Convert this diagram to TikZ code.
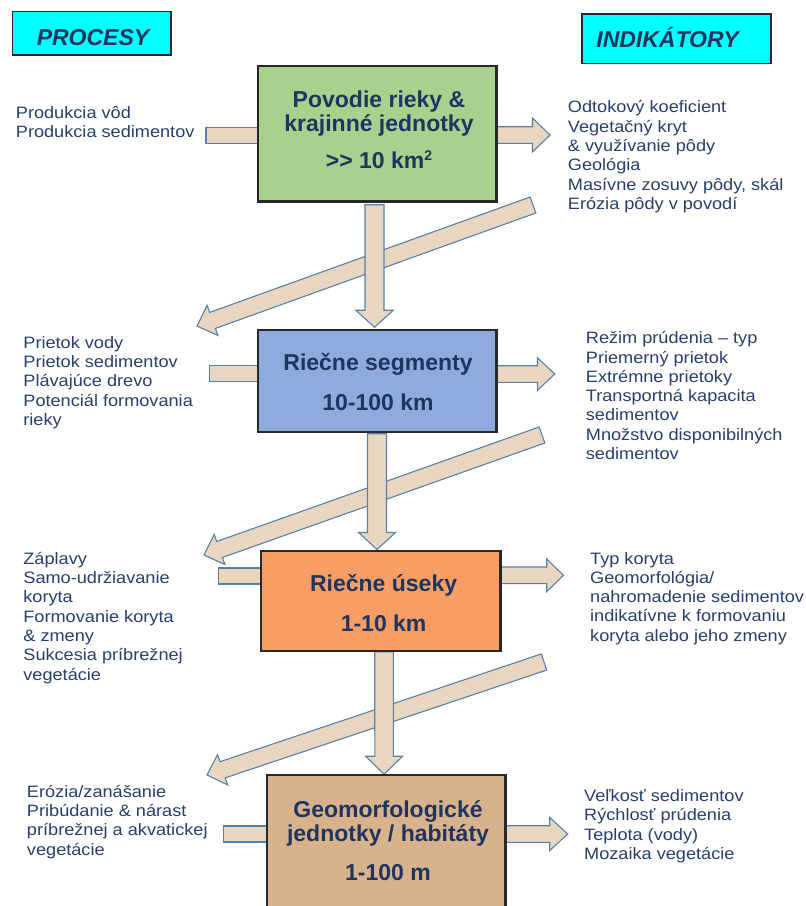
\documentclass[tikz,border=0pt]{standalone}
\usepackage{fontspec}
\setmainfont{Liberation Sans}
\newfontfamily\bodyf[FakeStretch=1.1]{Liberation Sans}
\usetikzlibrary{calc}
\definecolor{navy}{RGB}{31,52,94}
\definecolor{bodytxt}{RGB}{40,62,108}
\definecolor{arrfill}{RGB}{233,214,193}
\definecolor{arrline}{RGB}{88,128,172}
\definecolor{gfill}{RGB}{169,209,142}
\definecolor{bfill}{RGB}{143,170,220}
\definecolor{ofill}{RGB}{248,158,100}
\definecolor{tfill}{RGB}{216,178,140}
\definecolor{hfill}{RGB}{0,255,255}
\definecolor{boxline}{RGB}{40,40,40}
\newcommand\blockarr[5]{%
  \coordinate (bh) at ($(#2)!#5!(#1)$);
  \draw[barrow] ($(#1)!#3!90:(#2)$) -- ($(bh)!#3!90:(#2)$) -- ($(bh)!#4!90:(#2)$) -- (#2) -- ($(bh)!#4!-90:(#2)$) -- ($(bh)!#3!-90:(#2)$) -- ($(#1)!#3!-90:(#2)$) -- cycle;}
\newcommand\stripar[3]{%
  \draw[barrow] ($(#1)!#3!90:(#2)$) -- ($(#2)!#3!-90:(#1)$) -- ($(#2)!#3!90:(#1)$) -- ($(#1)!#3!-90:(#2)$) -- cycle;}
\newcommand\smallsup[1]{\raisebox{7.5pt}{\fontsize{14}{14}\selectfont #1}}
\begin{document}
\begin{tikzpicture}[x=1pt,y=-1pt,
  barrow/.style={fill=arrfill,draw=arrline,line width=1.1pt,line join=miter},
  lvlbox/.style={draw=boxline,line width=1.5pt,inner sep=0pt,minimum width=238pt},
  hdrbox/.style={draw=boxline,line width=1.2pt,fill=hfill,inner sep=0pt},
  hdrtext/.style={font=\bfseries\itshape\fontsize{23}{24}\selectfont,text=navy,anchor=base,inner sep=0pt},
  title/.style={font=\bfseries\fontsize{23}{24.5}\selectfont,text=navy,align=center,anchor=base,inner sep=0pt},
  body/.style={font=\bodyf\fontsize{16.5}{19.3}\selectfont,text=bodytxt,align=left,anchor=base west,inner sep=0pt}]
\path[use as bounding box] (0,0) rectangle (806,906);
\clip (0,0) rectangle (806,906);
% centres of level boxes
\coordinate (gC) at (377,133.5);
\coordinate (bC) at (377,380.75);
\coordinate (oC) at (380.85,601.1);
\coordinate (tC) at (386.15,855);
% diagonal arrows
\coordinate (d1s) at (533,205); \coordinate (d1e) at (197,326);
\coordinate (d2s) at (542,435); \coordinate (d2e) at (204,555);
\coordinate (d3s) at (544,662); \coordinate (d3e) at (207,775);
\blockarr{d1s}{d1e}{8.5pt}{16pt}{16.5pt}
\blockarr{d2s}{d2e}{8.5pt}{16pt}{16.5pt}
\blockarr{d3s}{d3e}{8.5pt}{16pt}{16.5pt}
% boxes
\node[lvlbox,fill=gfill,minimum height=135pt] (g) at (gC) {};
\node[lvlbox,fill=bfill,minimum height=101.5pt] (b) at (bC) {};
\node[lvlbox,fill=ofill,minimum width=238.3pt,minimum height=98.8pt] (o) at (oC) {};
\node[lvlbox,fill=tfill,minimum width=237.7pt,minimum height=160pt] (t) at (tC) {};
% vertical arrows
\coordinate (v1s) at ($(g.south)+(-2.5,3)$); \coordinate (v1e) at ($(b.north)+(-2.5,-2)$);
\coordinate (v2s) at ($(b.south)+(0,1.5)$); \coordinate (v2e) at ($(o.north)+(-3.85,-1.5)$);
\coordinate (v3s) at ($(o.south)+(3.15,0.5)$); \coordinate (v3e) at ($(t.north)+(-2,0)$);
\blockarr{v1s}{v1e}{9.5pt}{18.7pt}{17pt}
\blockarr{v2s}{v2e}{9.5pt}{18.5pt}{17pt}
\blockarr{v3s}{v3e}{9.3pt}{18.5pt}{18pt}
% right arrows
\coordinate (r1s) at ($(g.east)+(0,1.5)$); \coordinate (r1e) at ($(g.east)+(53.3,1.5)$);
\coordinate (r2s) at ($(b.east)+(0,-6.75)$); \coordinate (r2e) at ($(b.east)+(58,-6.75)$);
\coordinate (r3s) at ($(o.east)+(0,-25.8)$); \coordinate (r3e) at ($(o.east)+(62.7,-25.8)$);
\coordinate (r4s) at ($(t.east)+(0,-21)$); \coordinate (r4e) at ($(t.east)+(62,-21)$);
\blockarr{r1s}{r1e}{8.3pt}{17pt}{17.6pt}
\blockarr{r2s}{r2e}{8.3pt}{16.3pt}{17.3pt}
\blockarr{r3s}{r3e}{8.3pt}{16.3pt}{16.7pt}
\blockarr{r4s}{r4e}{8.3pt}{16.5pt}{18pt}
% left strips
\coordinate (l1s) at ($(g.west)+(-51.3,2)$); \coordinate (l1e) at ($(g.west)+(0,2)$);
\coordinate (l2s) at ($(b.west)+(-48,-7.25)$); \coordinate (l2e) at ($(b.west)+(0,-7.25)$);
\coordinate (l3s) at ($(o.west)+(-42.2,-25.1)$); \coordinate (l3e) at ($(o.west)+(0,-25.1)$);
\coordinate (l4s) at ($(t.west)+(-43.3,-21)$); \coordinate (l4e) at ($(t.west)+(0,-21)$);
\stripar{l1s}{l1e}{7.8pt}
\stripar{l2s}{l2e}{8pt}
\stripar{l3s}{l3e}{8pt}
\stripar{l4s}{l4e}{8pt}
% box outlines over arrow ends
\draw[draw=boxline,line width=1.5pt] (g.north west) rectangle (g.south east);
\draw[draw=boxline,line width=1.5pt] (b.north west) rectangle (b.south east);
\draw[draw=boxline,line width=1.5pt] (o.north west) rectangle (o.south east);
\draw[draw=boxline,line width=1.5pt] (t.north west) rectangle (t.south east);
% headers
\node[hdrbox,minimum width=158.7pt,minimum height=43.3pt] (hp) at (91.65,33.35) {};
\node[hdrbox,minimum width=189pt,minimum height=49.3pt] (hi) at (676.5,38.65) {};
\node[hdrtext] (hpt) at (93,45.7) {PROCESY};
\node[hdrtext] (hit) at (667.5,47.3) {INDIKÁTORY};
% titles (anchor = baseline of last line)
\node[title] (gt) at (379,168) {Povodie rieky \&\\krajinné jednotky\\[12pt]>{}> 10 km\smallsup{2}};
\node[title] (bt) at (378,410) {Riečne segmenty\\[15.5pt]10-100 km};
\node[title] (ot) at (383.6,631.7) {Riečne úseky\\[15.5pt]1-10 km};
\node[title] (tt) at (388,880) {Geomorfologické\\jednotky / habitáty\\[13.8pt]1-100 m};
% process texts (anchor = baseline of last line)
\node[body] (p1) at (15.7,137.3) {Produkcia vôd\\Produkcia sedimentov};
\node[body] (p2) at (23.2,425.5) {Prietok vody\\Prietok sedimentov\\Plávajúce drevo\\Potenciál formovania\\rieky};
\node[body] (p3) at (23.2,680) {Záplavy\\Samo-udržiavanie\\koryta\\Formovanie koryta\\\& zmeny\\Sukcesia príbrežnej\\vegetácie};
\node[body] (p4) at (26.8,855) {Erózia/zanášanie\\Pribúdanie \& nárast\\príbrežnej a akvatickej\\vegetácie};
% indicator texts
\node[body] (i1) at (567.7,209.3) {Odtokový koeficient\\Vegetačný kryt\\\& využívanie pôdy\\Geológia\\Masívne zosuvy pôdy, skál\\Erózia pôdy v povodí};
\node[body] (i2) at (585.7,459.5) {Režim prúdenia – typ\\Priemerný prietok\\Extrémne prietoky\\Transportná kapacita\\sedimentov\\Množstvo disponibilných\\sedimentov};
\node[body] (i3) at (590,641.2) {Typ koryta\\Geomorfológia/\\nahromadenie sedimentov\\indikatívne k formovaniu\\koryta alebo jeho zmeny};
\node[body] (i4) at (584,859.3) {Veľkosť sedimentov\\Rýchlosť prúdenia\\Teplota (vody)\\Mozaika vegetácie};
\end{tikzpicture}
\end{document}
